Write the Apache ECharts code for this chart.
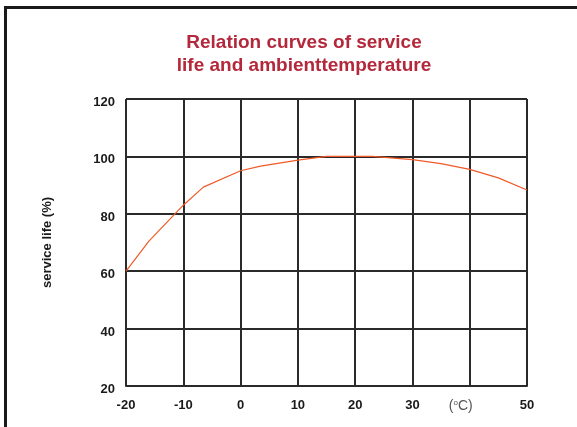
<!DOCTYPE html>
<html>
<head>
<meta charset="utf-8">
<script src="https://cdn.jsdelivr.net/npm/echarts@6/dist/echarts.min.js"></script>
<style>html,body{margin:0;padding:0;background:#fff}#c{width:577px;height:427px}</style>
</head>
<body>
<div id="c"></div>
<script>
var titleLines = ['Relation curves of service', 'life and ambienttemperature'];
var yAxisName = 'service life (%)';
var temperature = [-20, -16, -10, -6.5, 0, 3.5, 10, 15, 23, 30, 35, 40, 45, 50];
var serviceLife = [60, 70.5, 83, 89.3, 95, 96.6, 98.7, 100, 100, 98.9, 97.5, 95.5, 92.5, 88.3];
var xTicks = [-20, -10, 0, 10, 20, 30, 40, 50];
var yTicks = [20, 40, 60, 80, 100, 120];
var unitTickValue = 40;

var chart = echarts.init(document.getElementById('c'), null, {renderer: 'canvas'});
var pts = temperature.map(function (t, i) { return [t, serviceLife[i]]; });
var font = 'Liberation Sans, Arial, sans-serif';
chart.setOption({
  animation: false,
  backgroundColor: '#fff',
  title: {
    text: titleLines.join('\n'),
    left: 299, top: 26, textAlign: 'center',
    textStyle: {color: '#b3283b', fontSize: 19, fontWeight: 'bold', fontFamily: font, lineHeight: 23}
  },
  grid: {left: 126, right: 50, top: 99, bottom: 41},
  xAxis: {
    type: 'value', min: xTicks[0], max: xTicks[xTicks.length - 1], interval: 10,
    axisLine: {show: true, lineStyle: {color: '#2a2a2a', width: 2}},
    axisTick: {show: false},
    splitLine: {show: true, lineStyle: {color: '#2a2a2a', width: 2}},
    axisLabel: {
      margin: 13, color: '#1a1a1a', fontSize: 13, fontWeight: 'bold', fontFamily: font,
      formatter: function (v) { return v === unitTickValue ? '{u|(}{s|o}{u|C)}{p|}' : String(v); },
      rich: {
        u: {fontSize: 14, fontWeight: 'normal', color: '#555', fontFamily: font},
        s: {fontSize: 8, fontWeight: 'normal', color: '#555', fontFamily: font, verticalAlign: 'top', padding: [0, 0, 6, 0]},
        p: {width: 18}
      }
    }
  },
  yAxis: {
    type: 'value', min: yTicks[0], max: yTicks[yTicks.length - 1], interval: 20,
    name: yAxisName, nameLocation: 'middle', nameGap: 72, nameRotate: 90,
    nameTextStyle: {color: '#1a1a1a', fontSize: 13, fontWeight: 'bold', fontFamily: font},
    axisLine: {show: true, lineStyle: {color: '#2a2a2a', width: 2}},
    axisTick: {show: false},
    splitLine: {show: true, lineStyle: {color: '#2a2a2a', width: 2}},
    axisLabel: {
      margin: 11, fontFamily: font,
      formatter: function (v) { return '{a|' + v + '}'; },
      rich: {a: {color: '#1a1a1a', fontSize: 13, fontWeight: 'bold', fontFamily: font, padding: [7, 0, 0, 0]}}
    }
  },
  graphic: [
    {type: 'rect', shape: {x: 4, y: 6, width: 3, height: 421}, style: {fill: '#1a1a1a'}, z: 100},
    {type: 'rect', shape: {x: 4, y: 6, width: 573, height: 3}, style: {fill: '#1a1a1a'}, z: 100}
  ],
  series: [{
    type: 'line', data: pts, symbol: 'none', smooth: false,
    lineStyle: {color: '#f05a28', width: 1.2}, z: 10
  }]
});
</script>
</body>
</html>
